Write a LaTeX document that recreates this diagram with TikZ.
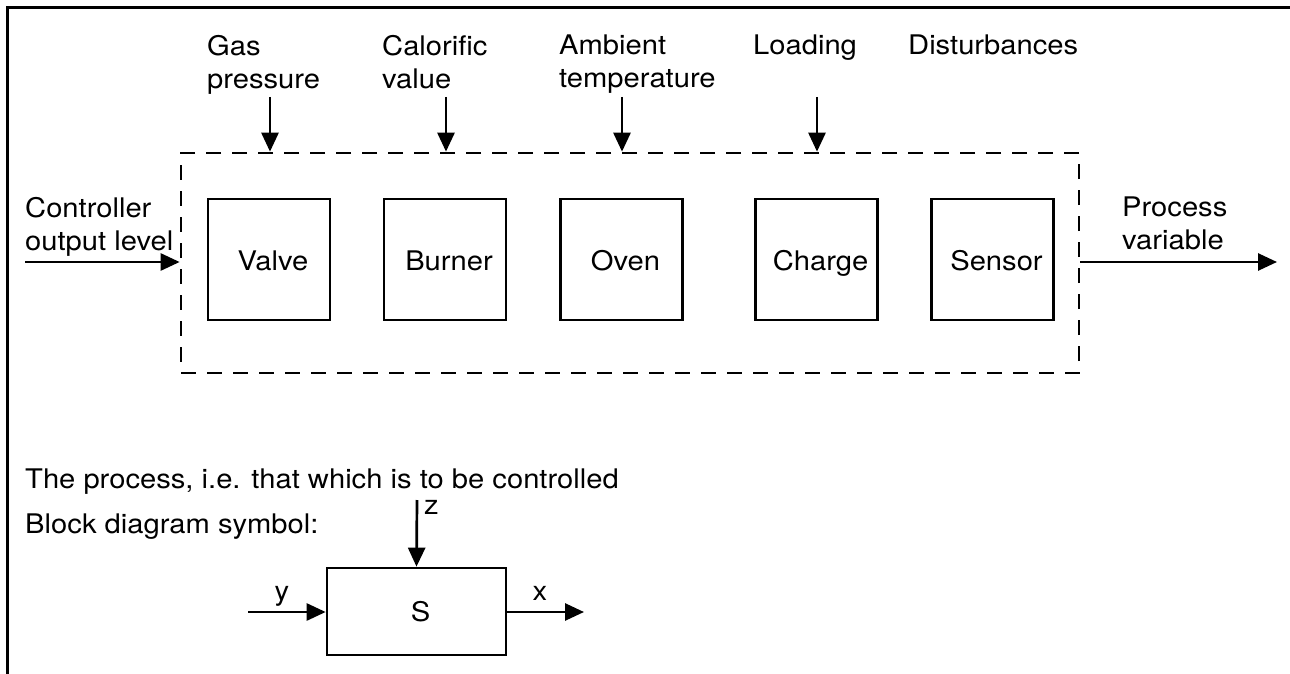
\documentclass[tikz,border=0pt]{standalone}
\usepackage{fontspec}
\setmainfont{TeX Gyre Heros}[FakeStretch=1.08]
\usetikzlibrary{arrows.meta}
\begin{document}
\begin{tikzpicture}[x=1pt,y=-1pt,
  lbl/.style={inner sep=0pt, align=left, font=\fontsize{27}{33}\selectfont, anchor=north west},
  txt/.style={inner sep=0pt, font=\fontsize{27}{33}\selectfont, anchor=base west},
  ctext/.style={inner sep=0pt, font=\fontsize{27}{33}\selectfont, anchor=base},
  blk/.style={draw, line width=2.7pt, minimum width=122pt, minimum height=121pt, inner sep=0pt},
  dbox/.style={draw, line width=2.7pt, dash pattern=on 15pt off 11pt, minimum width=898pt, minimum height=220pt, inner sep=0pt},
  sbox/.style={draw, line width=2.7pt, minimum width=179pt, minimum height=87pt, inner sep=0pt},
  arr/.style={line width=2.7pt, -{Triangle[length=19pt,width=17pt]}},
  frame/.style={line width=3pt}]
\useasboundingbox (0,0) rectangle (1290,674);

% frame
\coordinate (ftl) at (7,8);
\coordinate (ftr) at (1290,8);
\coordinate (fbl) at (7,674);
\draw[frame] (ftr) -- (ftl) -- (fbl);

% dashed process box
\node[dbox] (proc) at (630,263) {};

% blocks
\node[blk] (valve)  at (269,259.5) {};
\node[blk] (burner) at (445,259.5) {};
\node[blk] (oven)   at (621.5,259.5) {};
\node[blk] (charge) at (816.5,259.5) {};
\node[blk] (sensor) at (992.5,259.5) {};
\node[ctext] (tvalve)  at ([xshift=4pt,yshift=-11pt]valve.center)  {Valve};
\node[ctext] (tburner) at ([xshift=4pt,yshift=-11pt]burner.center) {Burner};
\node[ctext] (toven)   at ([xshift=4pt,yshift=-11pt]oven.center)   {Oven};
\node[ctext] (tcharge) at ([xshift=4pt,yshift=-11pt]charge.center) {Charge};
\node[ctext] (tsensor) at ([xshift=4pt,yshift=-11pt]sensor.center) {Sensor};

% top disturbance labels
\node[lbl] (gas)  at (207,35) {Gas\\pressure};
\node[lbl] (cal)  at (382,35) {Calorific\\value};
\node[lbl] (amb)  at (559,35) {Ambient\\temperature};
\node[lbl] (load) at (753,35) {Loading};
\node[lbl] (dist) at (908,35) {Disturbances};

% disturbance arrows
\coordinate (d1) at (270,97);
\coordinate (d2) at (446,97);
\coordinate (d3) at (622,97);
\coordinate (d4) at (817,97);
\draw[arr] (d1) -- (d1 |- proc.north);
\draw[arr] (d2) -- (d2 |- proc.north);
\draw[arr] (d3) -- (d3 |- proc.north);
\draw[arr] (d4) -- (d4 |- proc.north);

% input / output
\node[lbl] (ctrl) at (25,197) {Controller\\output level};
\node[lbl] (pv)   at (1122,197) {Process\\variable};
\coordinate (in) at (25,262);
\coordinate (out) at (1277,262);
\draw[arr] (in) -- (in -| proc.west);
\draw[arr] (out -| proc.east) -- (out);

% lower texts
\node[txt] (proctxt) at (25,488) {The process, i.e. that which is to be controlled};
\node[txt] (bdtxt)   at (25,533) {Block diagram symbol:};

% block symbol
\node[sbox] (s) at (416.5,611.5) {};
\node[ctext] (stxt) at ([xshift=4pt,yshift=-10pt]s.center) {S};
\coordinate (zt) at (417,500);
\coordinate (yin) at (248,612);
\coordinate (xout) at (584,612);
\draw[arr] (zt) -- (s.north);
\draw[arr] (yin) -- (yin -| s.west);
\draw[arr] (xout -| s.east) -- (xout);
\node[txt] (zl) at (424,514) {z};
\node[ctext] (yl) at (282,600) {y};
\node[ctext] (xl) at (540,600) {x};
\end{tikzpicture}
\end{document}
